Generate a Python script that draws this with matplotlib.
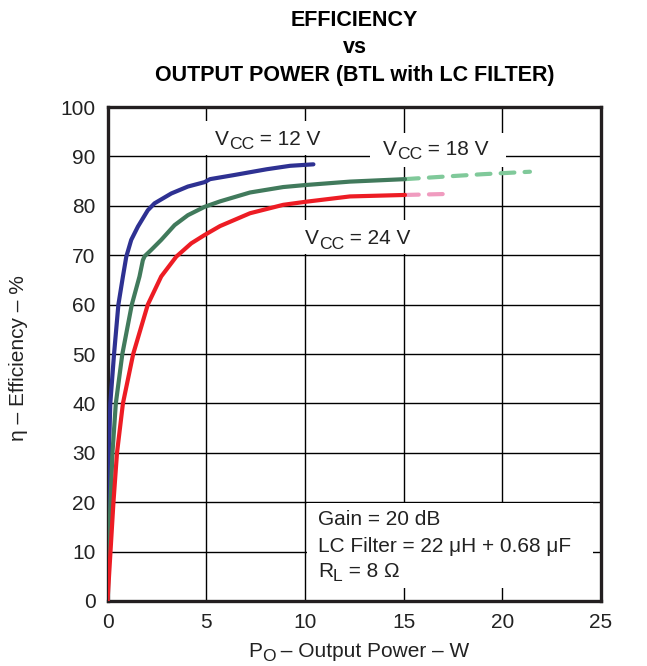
import numpy as np
import matplotlib
matplotlib.use('Agg')
import matplotlib.pyplot as plt
from matplotlib.patches import Rectangle
from matplotlib.transforms import offset_copy

plt.rcParams['font.family'] = ['Liberation Sans', 'DejaVu Sans']

# Vcc = 12 V
po_12 = [0, 0.02, 0.04, 0.07, 0.14, 0.33, 0.55, 0.78, 0.95, 1.2, 1.54, 2.04, 2.38, 3.23, 4.07,
         4.92, 5.19, 6.37, 8.06, 9.25, 10.43]
eff_12 = [0, 10, 20, 30, 40, 50, 60, 65.7, 69.7, 73.1, 75.8, 79.1, 80.5, 82.5, 83.9,
          84.8, 85.4, 86.2, 87.4, 88.1, 88.4]

# Vcc = 18 V
po_18 = [0, 0.07, 0.15, 0.25, 0.42, 0.75, 1.23, 1.62, 1.79, 1.88, 2.22, 2.72, 3.4, 4.07,
         4.92, 5.7, 7.22, 8.9, 10.0, 12.28, 15.07]
eff_18 = [0, 10, 20, 30, 40, 50, 60, 65.7, 69.0, 69.8, 71.1, 73.1, 76.1, 78.1,
          79.8, 80.9, 82.7, 83.8, 84.2, 84.9, 85.4]
po_18_ext = [15.07, 17.0, 19.0, 21.4]
eff_18_ext = [85.4, 85.9, 86.4, 86.9]

# Vcc = 24 V
po_24 = [0, 0.15, 0.3, 0.48, 0.78, 1.3, 2.04, 2.72, 3.48, 4.24, 4.92, 5.7, 7.22, 8.9, 10.0,
         12.28, 15.07]
eff_24 = [0, 10, 20, 30, 40, 50, 60, 65.7, 69.7, 72.4, 74.1, 75.9, 78.5, 80.2, 80.8,
          81.9, 82.2]
po_24_ext = [15.07, 17.18]
eff_24_ext = [82.2, 82.4]

x_ticks = [0, 5, 10, 15, 20, 25]
y_ticks = [0, 10, 20, 30, 40, 50, 60, 70, 80, 90, 100]

txt = '#222222'
fs = 15

fig = plt.figure(figsize=(6.47, 6.66), dpi=100)
ax = fig.add_axes([0.1662, 0.0976, 0.7627, 0.7417])
renderer = fig.canvas.get_renderer()

ax.set_xlim(0, 25)
ax.set_ylim(0, 100)
ax.set_xticks(x_ticks)
ax.set_yticks(y_ticks)
ax.grid(True, color='black', linewidth=1.0, zorder=0)
ax.set_axisbelow(True)
ax.tick_params(length=0, labelsize=fs, colors=txt)
ax.tick_params(axis='x', pad=9)
ax.tick_params(axis='y', pad=8.5)
for s in ax.spines.values():
    s.set_linewidth(2.4)
    s.set_color('#231f20')

# white label boxes hiding the grid
boxes = [(4.8, 90.3, 7.0, 6.9), (13.3, 87.9, 6.9, 6.8),
         (9.3, 70.15, 6.9, 6.95), (10.1, 2.6, 14.5, 17.3)]
for bx, by, bw, bh in boxes:
    ax.add_patch(Rectangle((bx, by), bw, bh, facecolor='white', edgecolor='none', zorder=1))

lw = 3.0
ax.plot(po_12, eff_12, color='#2e3192', lw=lw, solid_capstyle='round', solid_joinstyle='round', zorder=3)
ax.plot(po_18, eff_18, color='#417a5c', lw=lw, solid_capstyle='round', solid_joinstyle='round', zorder=3)
ax.plot(po_18_ext, eff_18_ext, color='#80c99a', lw=lw, dashes=(3.3, 2.45), dash_capstyle='round', zorder=2)
ax.plot(po_24, eff_24, color='#ed1c24', lw=lw, solid_capstyle='round', solid_joinstyle='round', zorder=3)
ax.plot(po_24_ext, eff_24_ext, color='#f09bbf', lw=lw, dashes=(3.3, 2.45), dash_capstyle='round', zorder=2)


def sub_text(maker, x, y, main, sub, rest, base, size=fs, ratio=0.84, dy=-3.1):
    t1 = maker(x, y, main, fontsize=size, ha='left', va='baseline', color=txt,
               transform=base, zorder=4)
    w1 = t1.get_window_extent(renderer).width * 72 / fig.dpi
    t2 = maker(x, y, sub, fontsize=size * ratio, ha='left', va='baseline', color=txt,
               transform=offset_copy(base, fig, x=w1, y=dy, units='points'), zorder=4)
    w2 = t2.get_window_extent(renderer).width * 72 / fig.dpi
    maker(x, y, rest, fontsize=size, ha='left', va='baseline', color=txt,
          transform=offset_copy(base, fig, x=w1 + w2, y=0, units='points'), zorder=4)


sub_text(ax.text, 5.45, 92.3, 'V', 'CC', ' = 12 V', ax.transData)
sub_text(ax.text, 13.96, 90.3, 'V', 'CC', ' = 18 V', ax.transData)
sub_text(ax.text, 10.0, 72.2, 'V', 'CC', ' = 24 V', ax.transData)

ax.text(10.66, 15.4, 'Gain = 20 dB', ha='left', va='baseline', fontsize=fs, color=txt, zorder=4)
ax.text(10.66, 9.9, 'LC Filter = 22 μH + 0.68 μF', ha='left', va='baseline', fontsize=fs, color=txt, zorder=4)
sub_text(ax.text, 10.66, 4.9, 'R', 'L', ' = 8 Ω', ax.transData)

sub_text(fig.text, 0.383, 0.0135, 'P', 'O', ' – Output Power – W', fig.transFigure, dy=-2.8)
fig.text(0.029, 0.463, 'η – Efficiency – %', rotation=90, ha='center', va='center',
         fontsize=fs, color=txt)

fig.text(0.548, 0.961, 'EFFICIENCY', ha='center', va='baseline', fontsize=15.5, fontweight='bold')
fig.text(0.548, 0.920, 'vs', ha='center', va='baseline', fontsize=15.5, fontweight='bold')
fig.text(0.548, 0.878, 'OUTPUT POWER (BTL with LC FILTER)', ha='center', va='baseline',
         fontsize=15.5, fontweight='bold')

fig.savefig('out.png', dpi=100, facecolor='white')
